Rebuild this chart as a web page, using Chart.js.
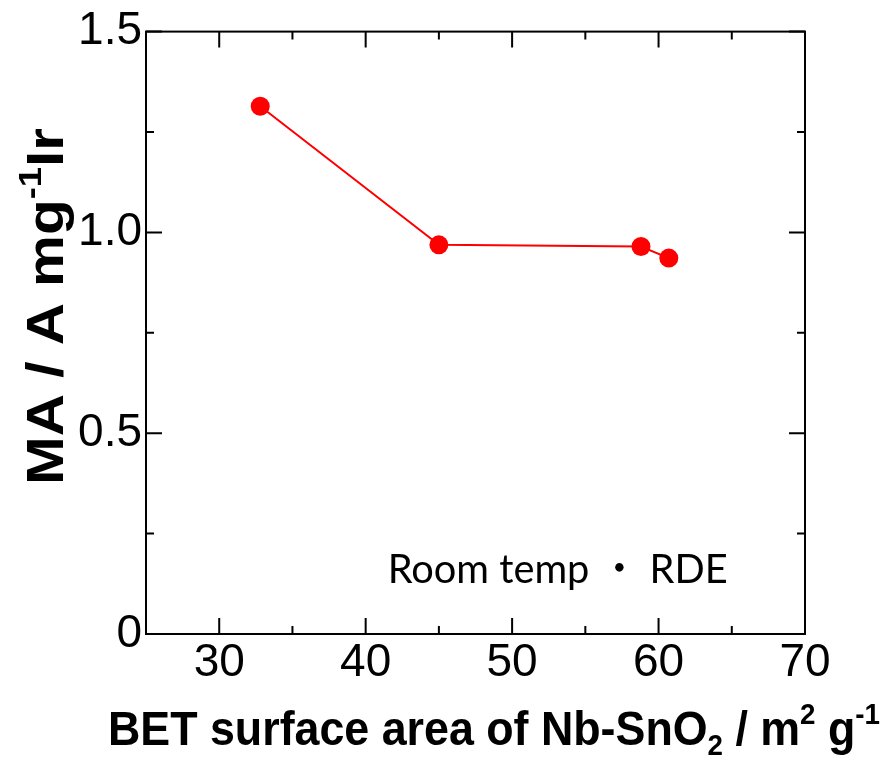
<!DOCTYPE html>
<html><head><meta charset="utf-8">
<script src="https://cdn.jsdelivr.net/npm/chart.js@4"></script>
<style>html,body{margin:0;padding:0;background:#fff}#wrap{width:887px;height:758px}</style>
</head><body><div id="wrap"><canvas id="c" width="887" height="758"></canvas></div>
<script>
const betArea = [32.8, 45.0, 58.8, 60.7];
const massActivity = [1.314, 0.969, 0.965, 0.936];
const xTickValues = [30, 40, 50, 60, 70];
const xMinorTicks = [35, 45, 55, 65];
const yTickValues = [0, 0.5, 1.0, 1.5];
const yMinorTicks = [0.25, 0.75, 1.25];
const xTitleParts = [["BET surface area of Nb-SnO", ""], ["2", "sub"], [" / m", ""], ["2", "sup"], [" g", ""], ["-1", "sup"]];
const yTitleParts = [["MA / A mg", ""], ["-1", "sup"], ["Ir", ""]];
const noteText = "Room temp \u30FB RDE";

function segFont(kind, size, weight, family) {
  const s = kind ? size * 0.62 : size;
  return `${weight} ${s}px ${family}`;
}
function richWidth(ctx, parts, size, weight, family) {
  let w = 0;
  for (const [t, k] of parts) { ctx.font = segFont(k, size, weight, family); w += ctx.measureText(t).width; }
  return w;
}
function drawRich(ctx, parts, size, weight, family, targetW) {
  const nat = richWidth(ctx, parts, size, weight, family);
  const sx = targetW / nat;
  ctx.save();
  ctx.scale(sx, 1);
  let x = 0;
  ctx.textBaseline = 'alphabetic';
  ctx.textAlign = 'left';
  for (const [t, k] of parts) {
    ctx.font = segFont(k, size, weight, family);
    const dy = k === 'sup' ? -size * 0.42 : (k === 'sub' ? size * 0.2 : 0);
    ctx.fillText(t, x, dy);
    x += ctx.measureText(t).width;
  }
  ctx.restore();
}

const framePlugin = {
  id: 'frame',
  beforeDatasetsDraw(chart) {
    const { ctx, chartArea: a, scales: { x, y } } = chart;
    ctx.save();
    ctx.strokeStyle = '#000';
    ctx.lineWidth = 2;
    ctx.strokeRect(a.left, a.top, a.right - a.left, a.bottom - a.top);
    ctx.beginPath();
    const tick = (vals, len) => {
      for (const v of vals) {
        const px = x.getPixelForValue(v);
        ctx.moveTo(px, a.bottom); ctx.lineTo(px, a.bottom - len);
        ctx.moveTo(px, a.top); ctx.lineTo(px, a.top + len);
      }
    };
    const tickY = (vals, len) => {
      for (const v of vals) {
        const py = y.getPixelForValue(v);
        ctx.moveTo(a.left, py); ctx.lineTo(a.left + len, py);
        ctx.moveTo(a.right, py); ctx.lineTo(a.right - len, py);
      }
    };
    tick(xTickValues, 16); tick(xMinorTicks, 8);
    tickY(yTickValues, 16); tickY(yMinorTicks, 8);
    ctx.stroke();
    ctx.restore();
  },
  afterDraw(chart) {
    const { ctx, chartArea: a, scales: { x, y } } = chart;
    ctx.save();
    ctx.fillStyle = '#000';
    ctx.save();
    ctx.translate(a.left - 38, 745);
    drawRich(ctx, xTitleParts, 49, 'bold', "'Liberation Sans Narrow', 'Liberation Sans', Arial, sans-serif", 772);
    ctx.restore();
    ctx.save();
    ctx.translate(63, 485);
    ctx.rotate(-Math.PI / 2);
    drawRich(ctx, yTitleParts, 52, 'bold', "'Liberation Sans', Arial, sans-serif", 357);
    ctx.restore();
    ctx.save();
    ctx.translate(x.getPixelForValue(41.5), y.getPixelForValue(0.126));
    drawRich(ctx, [[noteText, ""]], 41, 'normal', "Lato, 'Noto Sans CJK JP', sans-serif", 340);
    ctx.restore();
    ctx.restore();
  }
};

new Chart(document.getElementById('c'), {
  type: 'line',
  data: {
    datasets: [{
      data: betArea.map((v, i) => ({ x: v, y: massActivity[i] })),
      borderColor: '#ff0000',
      backgroundColor: '#ff0000',
      borderWidth: 2,
      pointRadius: 9.5,
      pointBackgroundColor: '#ff0000',
      pointBorderWidth: 0,
      tension: 0
    }]
  },
  options: {
    responsive: false,
    animation: false,
    devicePixelRatio: 1,
    layout: { padding: { top: 28, right: 82, left: 0, bottom: 0 } },
    plugins: { legend: { display: false }, tooltip: { enabled: false } },
    scales: {
      x: {
        type: 'linear', min: 25, max: 70,
        afterBuildTicks: s => { s.ticks = xTickValues.map(v => ({ value: v })); },
        afterFit: s => { s.height = 124; },
        ticks: { font: { family: "'Liberation Sans', Arial, sans-serif", size: 46 }, color: '#000', padding: 2, autoSkip: false, maxRotation: 0 },
        grid: { display: false, drawTicks: false },
        border: { display: false }
      },
      y: {
        type: 'linear', min: 0, max: 1.5,
        afterBuildTicks: s => { s.ticks = yTickValues.map(v => ({ value: v })); },
        afterFit: s => { s.width = 146; },
        ticks: { font: { family: "'Liberation Sans', Arial, sans-serif", size: 46 }, color: '#000', padding: 4, autoSkip: false,
          callback: v => v === 0 ? '0' : v.toFixed(1) },
        grid: { display: false, drawTicks: false },
        border: { display: false }
      }
    }
  },
  plugins: [framePlugin]
});
</script>
</body></html>
